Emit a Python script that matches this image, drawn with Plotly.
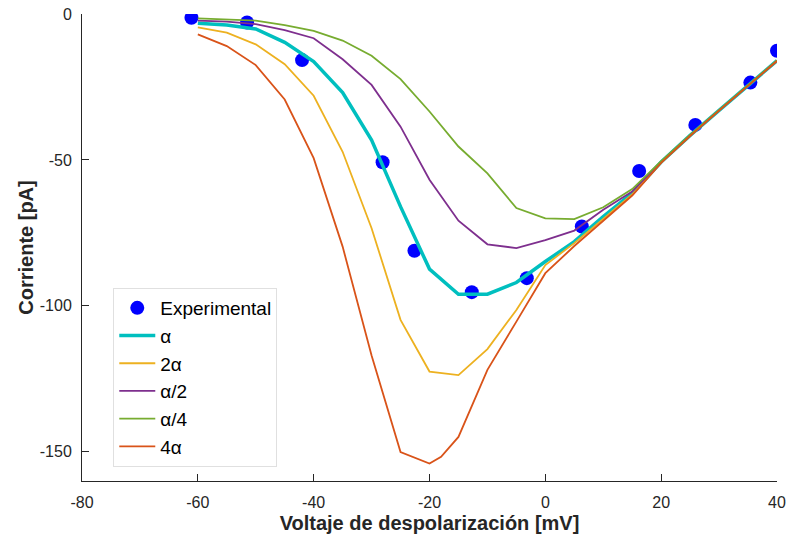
import plotly.graph_objects as go

# Experimental I-V points
exp_v = [-61.1, -51.5, -42.0, -28.1, -22.6, -12.7, -3.2, 6.3, 16.2, 25.9, 35.4, 40.0]
exp_i = [-1.3, -2.9, -15.8, -50.8, -81.1, -95.3, -90.5, -72.8, -53.8, -38.0, -23.5, -12.6]

# Model voltages (mV)
v_model = [-60, -55, -50, -45, -40, -35, -30, -25, -20, -15, -10, -5,
           0, 5, 10, 15, 20, 25, 30, 35, 40]
v_model_4a = [-60, -55, -50, -45, -40, -35, -30, -25, -20, -18, -15, -10, -5,
              0, 5, 10, 15, 20, 25, 30, 35, 40]

# Model currents (pA) for each scaling of alpha
i_alpha = [-3.2, -3.8, -5.1, -9.7, -16.3, -26.9, -43.2, -66.0, -87.4, -96.0, -96.0, -92.0,
           -84.8, -78.0, -69.4, -61.4, -50.7, -41.6, -33.0, -24.5, -16.0]
i_2alpha = [-4.6, -6.4, -10.4, -17.2, -28.0, -47.2, -73.4, -104.8, -122.5, -123.7, -114.8, -101.4,
            -86.0, -78.5, -70.2, -61.8, -50.8, -41.6, -33.0, -24.5, -16.0]
i_half = [-2.3, -2.6, -3.5, -5.5, -8.3, -15.5, -24.3, -38.6, -56.8, -70.8, -78.9, -80.2,
          -77.5, -74.2, -67.1, -60.8, -50.6, -41.5, -33.0, -24.5, -16.0]
i_quarter = [-1.5, -1.8, -2.3, -3.8, -5.8, -9.1, -14.3, -22.3, -33.4, -45.4, -54.6, -66.5,
             -70.0, -70.3, -66.2, -60.0, -50.4, -41.4, -32.9, -24.4, -15.9]
i_4alpha = [-7.0, -11.0, -17.5, -29.3, -49.4, -79.7, -117.0, -150.1, -154.0, -151.7, -144.9,
            -121.9, -105.4, -88.8, -79.5, -70.8, -62.2, -51.0, -41.8, -33.1, -24.6, -16.1]

x_ticks = [-80, -60, -40, -20, 0, 20, 40]
y_ticks = [-150, -100, -50, 0]

fig = go.Figure()
fig.add_trace(go.Scatter(x=exp_v, y=exp_i, mode="markers", name="Experimental",
                         marker=dict(color="#0000FF", size=14, line=dict(width=0))))
fig.add_trace(go.Scatter(x=v_model, y=i_alpha, mode="lines", name="α",
                         line=dict(color="#00BFBF", width=3.5)))
fig.add_trace(go.Scatter(x=v_model, y=i_2alpha, mode="lines", name="2α",
                         line=dict(color="#EDB120", width=1.8)))
fig.add_trace(go.Scatter(x=v_model, y=i_half, mode="lines", name="α/2",
                         line=dict(color="#7E2F8E", width=1.8)))
fig.add_trace(go.Scatter(x=v_model, y=i_quarter, mode="lines", name="α/4",
                         line=dict(color="#77AC30", width=1.8)))
fig.add_trace(go.Scatter(x=v_model_4a, y=i_4alpha, mode="lines", name="4α",
                         line=dict(color="#D95319", width=1.8)))

axis_common = dict(
    showgrid=False, zeroline=False, showline=True, linecolor="#262626", linewidth=1,
    ticks="inside", ticklen=7, tickcolor="#262626", tickwidth=1,
    tickfont=dict(family="Liberation Sans, Arial", size=16, color="#262626"),
    automargin=False,
)

fig.update_layout(
    width=787, height=542,
    margin=dict(l=82, r=10, t=14, b=61),
    paper_bgcolor="white", plot_bgcolor="white",
    font=dict(family="Liberation Sans, Arial", color="#262626"),
    xaxis=dict(range=[-80, 40], tickvals=x_ticks, ticktext=[str(t) for t in x_ticks],
               ticklabelstandoff=7,
               title=dict(text="<b>Voltaje de despolarización [mV]</b>",
                          font=dict(size=20, color="#262626"), standoff=5),
               **axis_common),
    yaxis=dict(range=[-160, 0], tickvals=y_ticks, ticktext=[str(t) for t in y_ticks],
               ticklabelstandoff=6,
               title=dict(text="<b>Corriente [pA]</b>",
                          font=dict(size=20, color="#262626"), standoff=0),
               **axis_common),
    legend=dict(x=0.045, y=0.03, xanchor="left", yanchor="bottom",
                bgcolor="white", bordercolor="#E0E0E0", borderwidth=1,
                font=dict(family="Liberation Sans, Arial", size=19, color="#000000"),
                itemwidth=36, tracegroupgap=0),
    showlegend=True,
)

fig.write_html("out.html")
